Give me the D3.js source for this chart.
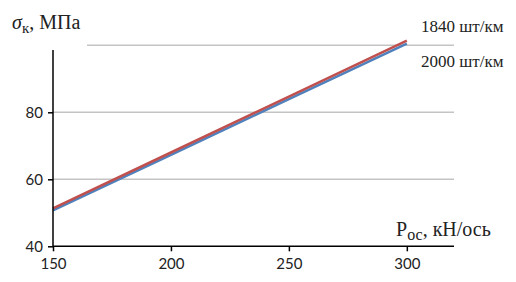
<html>
<head>
  <meta charset="UTF-8">
  <script src="https://cdnjs.cloudflare.com/ajax/libs/d3/7.8.5/d3.min.js"></script>
</head>
<style>
body { margin: 0; background: #fff; }
.tick text { font-family: Lato, "Open Sans", sans-serif; font-size: 15px; fill: #222; }
.lbl { font-family: "Liberation Serif", serif; font-size: 17px; fill: #222; }
</style>
<body>
<script>

var xValues = [150, 200, 250, 300];
var s1840 = [51.3, 68.0, 84.7, 101.4];
var s2000 = [50.7, 67.3, 83.9, 100.5];
var xTicks = [150, 200, 250, 300];
var yTicks = [40, 60, 80];
var yGrid = [60, 80, 100];

var width = 516,
    height = 282;

var svg = d3.select('body')
  .append('svg')
  .attr('width', width)
  .attr('height', height);

var x = d3.scaleLinear().domain([150, 320]).range([53, 454]);
var y = d3.scaleLinear().domain([40, 100]).range([246.3, 45.3]);

// grid lines (the top one is cut by the title box)
svg.selectAll('.grid')
  .data(yGrid)
  .enter()
  .append('line')
  .attr('x1', function(d){ return d == 100 ? 87 : x(150); })
  .attr('x2', x(320))
  .attr('y1', function(d){ return y(d); })
  .attr('y2', function(d){ return y(d); })
  .attr('stroke', '#c4c4c4')
  .attr('stroke-width', 1.5);

var line = d3.line()
  .x(function(d){ return x(d[0]); })
  .y(function(d){ return y(d[1]); });

svg.append('path')
  .datum(d3.zip(xValues, s2000))
  .attr('fill', 'none')
  .attr('stroke', '#4f81bd')
  .attr('stroke-width', 2.5)
  .attr('d', line);

svg.append('path')
  .datum(d3.zip(xValues, s1840))
  .attr('fill', 'none')
  .attr('stroke', '#c0504d')
  .attr('stroke-width', 2.5)
  .attr('d', line);

var xAxis = svg.append('g')
  .attr('transform', 'translate(0,' + y(40) + ')')
  .call(d3.axisBottom(x).tickValues(xTicks).tickSize(5).tickPadding(7));
xAxis.select('.domain').attr('d', 'M' + x(150) + ',0H' + x(320));

var yAxis = svg.append('g')
  .attr('transform', 'translate(' + x(150) + ',0)')
  .call(d3.axisLeft(y).tickValues(yTicks).tickSize(5).tickPadding(5));
yAxis.select('.domain').attr('d', 'M0,50V' + y(40));

svg.selectAll('.domain, .tick line')
  .attr('stroke', '#000')
  .attr('stroke-width', 1.5);

// titles
var t = svg.append('text').attr('class', 'lbl').attr('x', 12).attr('y', 29).style('font-size', '20px');
t.append('tspan').attr('font-style', 'italic').text('σ');
t.append('tspan').style('font-size', '15px').attr('dy', 4).text('к');
t.append('tspan').attr('dy', -4).text(', МПа');

var t2 = svg.append('text').attr('class', 'lbl').attr('x', 396).attr('y', 236).style('font-size', '20px');
t2.append('tspan').text('P');
t2.append('tspan').style('font-size', '16px').attr('dy', 4).text('ос');
t2.append('tspan').attr('dy', -4).text(', кН/ось');

svg.append('text').attr('class', 'lbl').attr('x', 421).attr('y', 32).text('1840 шт/км');
svg.append('text').attr('class', 'lbl').attr('x', 421).attr('y', 67).text('2000 шт/км');

</script>
</body>
</html>
